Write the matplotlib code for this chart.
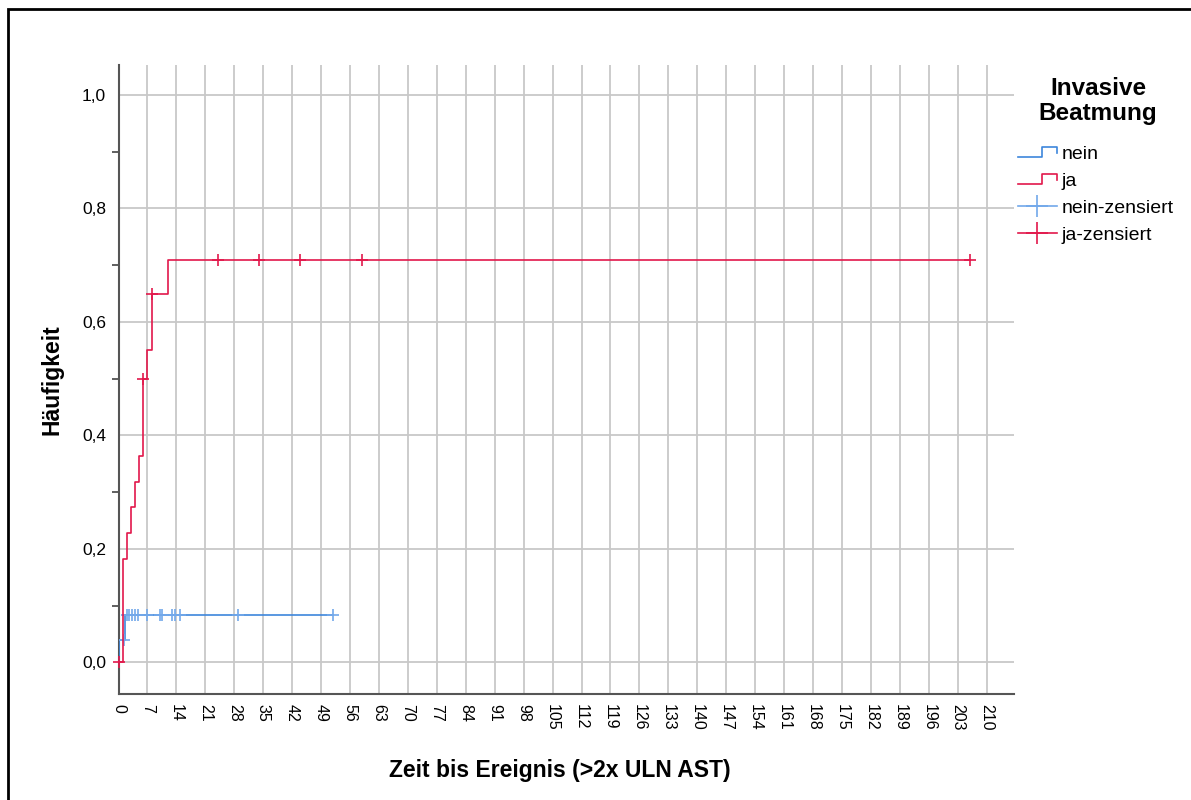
import numpy as np
import matplotlib
matplotlib.use("Agg")
import matplotlib.pyplot as plt
from matplotlib.lines import Line2D
from matplotlib.legend_handler import HandlerBase
from matplotlib.patches import Rectangle
from matplotlib.ticker import FixedLocator, FuncFormatter

plt.rcParams['font.family'] = ['Liberation Sans', 'DejaVu Sans']

# cumulative incidence, group "ja"
ja_time = [0, 1, 2, 3, 4, 5, 6, 7, 8, 12, 206]
ja_cum = [0.0, 0.182, 0.227, 0.273, 0.318, 0.364, 0.5, 0.55, 0.65, 0.709, 0.709]
ja_cens = [0, 6, 8, 24, 34, 44, 59, 206]

# cumulative incidence, group "nein"
nein_time = [0, 0, 1.5, 52]
nein_cum = [0.0, 0.04, 0.083, 0.083]
nein_cens = [1.4, 2, 2.5, 3.2, 4, 4.8, 7, 10, 10.6, 13, 13.7, 14.8, 29, 52]

x_ticks = list(range(0, 211, 7))
y_ticks = [0.0, 0.2, 0.4, 0.6, 0.8, 1.0]

RED = '#E2184B'
BLUE = '#3D86DC'
BLUE_C = '#72A8EA'


def level_at(times, cum, t):
    i = np.searchsorted(times, t, side='right') - 1
    return cum[max(i, 0)]


class StepHandler(HandlerBase):
    def create_artists(self, legend, orig_handle, xd, yd, width, height, fontsize, trans):
        c = orig_handle.get_color()
        xs = [-xd, -xd + 0.62 * width, -xd + 0.62 * width, -xd + width, -xd + width]
        ys = [-yd + 0.15 * height, -yd + 0.15 * height, -yd + 0.85 * height,
              -yd + 0.85 * height, -yd + 0.4 * height]
        ln = Line2D(xs, ys, color=c, lw=1.2, transform=trans)
        return [ln]


fig = plt.figure(figsize=(11.91, 8.0), dpi=100)
ax = fig.add_axes([118.5 / 1191, 106 / 800, (1014 - 118.5) / 1191, (694 - 65) / 800])

ax.step(nein_time, nein_cum, where='post', color=BLUE, lw=1.2, zorder=3)
ax.step(ja_time, ja_cum, where='post', color=RED, lw=1.2, zorder=4)

nc_y = [level_at(nein_time, nein_cum, t) for t in nein_cens]
jc_y = [level_at(ja_time, ja_cum, t) for t in ja_cens]
ax.plot(nein_cens, nc_y, ls='none', marker='+', ms=8, mew=1.2, color=BLUE_C, zorder=3)
ax.plot(ja_cens, jc_y, ls='none', marker='+', ms=8, mew=1.2, color=RED, zorder=5,
        clip_on=False)

ax.set_xlim(0, 216.6)
ax.set_ylim(-0.056, 1.053)
ax.set_xticks(x_ticks)
ax.set_xticklabels([str(v) for v in x_ticks], rotation=-90, fontsize=11.5)
ax.set_yticks(y_ticks)
ax.yaxis.set_major_formatter(FuncFormatter(lambda v, p: f"{v:.1f}".replace('.', ',')))
ax.yaxis.set_minor_locator(FixedLocator([0.1, 0.3, 0.5, 0.7, 0.9]))
ax.tick_params(axis='y', which='major', length=0, pad=9, labelsize=12.5)
ax.tick_params(axis='y', which='minor', length=5, width=1.2, color='#444444', direction='out')
ax.tick_params(axis='x', length=0, pad=7)

ax.grid(True, color='#C8C8C8', lw=1.3, zorder=0)
ax.set_axisbelow(True)
for s in ('top', 'right'):
    ax.spines[s].set_visible(False)
for s in ('left', 'bottom'):
    ax.spines[s].set_color('#555555')
    ax.spines[s].set_linewidth(1.5)

ax.set_xlabel('Zeit bis Ereignis (>2x ULN AST)', fontsize=16.5, fontweight='bold', va='center')
ax.set_ylabel('Häufigkeit', fontsize=16.5, fontweight='bold', va='center')
ax.xaxis.set_label_coords((560 - 118.5) / 895.5, (694 - 770) / 629)
ax.yaxis.set_label_coords((52 - 118.5) / 895.5, (694 - 380) / 629)

# legend: title drawn separately so the gap below it can be set freely
fig.text(1098 / 1191, 1 - 101 / 800, 'Invasive\nBeatmung', ha='center', va='center',
         fontsize=17.5, fontweight='bold', linespacing=1.08, multialignment='center')

handles = [Line2D([], [], color=BLUE), Line2D([], [], color=RED),
           Line2D([0], [0], color=BLUE_C, marker='+', ms=16, mew=1.2, lw=1.2),
           Line2D([0], [0], color=RED, marker='+', ms=16, mew=1.2, lw=1.2)]
leg = fig.legend(handles, ['nein', 'ja', 'nein-zensiert', 'ja-zensiert'],
                 loc='upper left', bbox_to_anchor=(1016 / 1191, 1 - 143 / 800),
                 frameon=False, fontsize=14,
                 handlelength=2.0, handletextpad=0.25, labelspacing=0.49,
                 borderaxespad=0, borderpad=0.1,
                 handler_map={handles[0]: StepHandler(), handles[1]: StepHandler()})

fig.add_artist(Rectangle((8 / 1191, -0.05), 1.1, 1 - 9 / 800 + 0.05,
                         transform=fig.transFigure, fill=False, ec='black', lw=2))

fig.savefig('out.png', dpi=100)
